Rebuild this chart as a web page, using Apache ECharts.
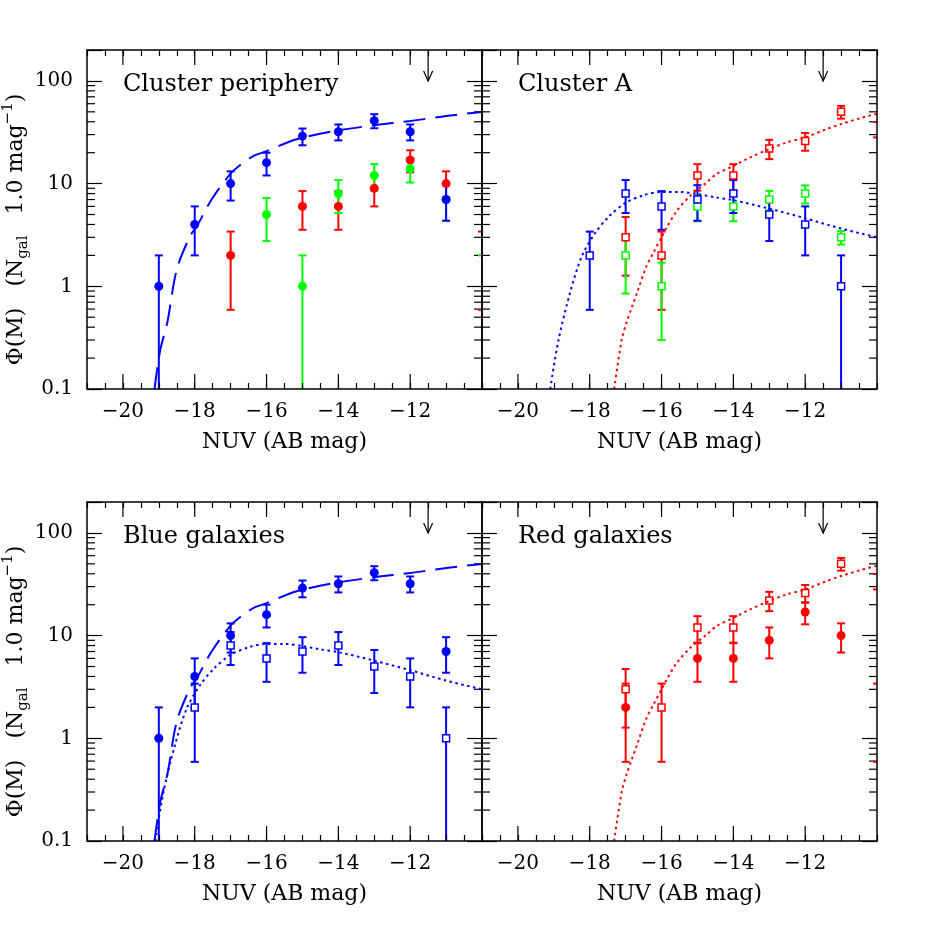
<!DOCTYPE html>
<html>
<head>
<meta charset="utf-8">
<title>NUV luminosity functions</title>
<script src="https://cdn.jsdelivr.net/npm/echarts@6/dist/echarts.min.js"></script>
<style>
  html, body { margin: 0; padding: 0; background: #fff; }
  #chart { width: 926px; height: 926px; }
</style>
</head>
<body>
<div id="chart"></div>
<script>
// Cluster periphery (filled circles)
const periphBlueX = [-19, -18, -17, -16, -15, -14, -13, -12, -11]
const periphBluePhi = [1, 4, 10, 16, 29, 32, 41, 32, 7]
const periphBlueErr = [1, 2, 3.16, 4, 5.39, 5.66, 6.4, 5.66, 2.65]
const periphRedX = [-17, -15, -14, -13, -12, -11, -10]
const periphRedPhi = [2, 6, 6, 9, 17, 10, 2]
const periphRedErr = [1.41, 2.45, 2.45, 3, 4.12, 3.16, 1.41]
const periphGreenX = [-16, -15, -14, -13, -12, -11, -10]
const periphGreenPhi = [5, 1, 8, 12, 14, 7, 1]
const periphGreenErr = [2.24, 1, 2.83, 3.46, 3.74, 2.65, 1]

// Cluster A (open squares)
const clusterBlueX = [-18, -17, -16, -15, -14, -13, -12, -11]
const clusterBluePhi = [2, 8, 6, 7, 8, 5, 4, 1]
const clusterBlueErr = [1.41, 2.83, 2.45, 2.65, 2.83, 2.24, 2, 1]
const clusterRedX = [-17, -16, -15, -14, -13, -12, -11, -10]
const clusterRedPhi = [3, 2, 12, 12, 22, 26, 50, 34]
const clusterRedErr = [1.73, 1.41, 3.46, 3.46, 4.69, 5.1, 7.07, 5.83]
const clusterGreenX = [-17, -16, -15, -14, -13, -12, -11]
const clusterGreenPhi = [2, 1, 6, 6, 7, 8, 3]
const clusterGreenErr = [1.15, 0.7, 1.7, 1.7, 1.5, 1.6, 0.45]

// fitted curves
const periphFitX = [-19.12, -18.96, -18.76, -18.5, -18.13, -17.94, -17.53, -17.02, -16.74, -16.37, -16.0, -15.44, -15.0, -14.0, -13.0, -12.0, -11.0, -10.0]
const periphFitPhi = [0.1, 0.24, 0.45, 1.46, 3.08, 3.85, 7.0, 12.3, 15.1, 18.5, 20.7, 25, 28, 33, 37, 40.7, 45.6, 49.9]
const clusterBlueFitX = [-19.1, -18.87, -18.55, -18.22, -17.85, -17.46, -17.0, -16.5, -16.0, -15.5, -15.0, -14.5, -14.0, -13.0, -12.0, -11.0, -10.0]
const clusterBlueFitPhi = [0.1, 0.3, 0.86, 1.96, 3.3, 4.8, 6.5, 7.7, 8.3, 8.3, 7.9, 7.35, 6.9, 5.7, 4.6, 3.65, 3.0]
const clusterRedFitX = [-17.32, -17.11, -16.97, -16.83, -16.69, -16.42, -16.23, -16.0, -15.86, -15.58, -15.21, -14.75, -14.47, -14.01, -13.55, -13.01, -12.53, -12.02, -11.42, -11.02, -10.47, -10.0]
const clusterRedFitPhi = [0.1, 0.3, 0.45, 0.62, 0.85, 1.57, 2.12, 3.0, 3.72, 5.4, 7.55, 10.2, 12.4, 14.8, 17.9, 21.6, 25.1, 28, 33.8, 37.8, 43.3, 48]

// axis ticks and the completeness arrow
const xMajorTicks = [-20, -18, -16, -14, -12]
const yDecadeLabels = [0.1, 1, 10, 100]
const arrowMag = -11.5

const X_MIN = -21, X_MAX = -10, Y_MIN = 0.1, Y_MAX = 200
const FONT = 'DejaVu Serif'
const BLUE = '#0000ff', RED = '#ff0000', GREEN = '#00ff00'
const LONG_DASH = [22, 10]
const DOTTED = [2.5, 3.5]

const yMinorTicks = []
yDecadeLabels.forEach(d => {
  for (let m = 2; m <= 9; m++) if (m * d < Y_MAX) yMinorTicks.push(+(m * d).toPrecision(3))
})

const periphBlue = { x: periphBlueX, phi: periphBluePhi, err: periphBlueErr, color: BLUE, shape: 'circle' }
const periphRed = { x: periphRedX, phi: periphRedPhi, err: periphRedErr, color: RED, shape: 'circle' }
const periphGreen = { x: periphGreenX, phi: periphGreenPhi, err: periphGreenErr, color: GREEN, shape: 'circle' }
const clusterBlue = { x: clusterBlueX, phi: clusterBluePhi, err: clusterBlueErr, color: BLUE, shape: 'rect' }
const clusterRed = { x: clusterRedX, phi: clusterRedPhi, err: clusterRedErr, color: RED, shape: 'rect' }
const clusterGreen = { x: clusterGreenX, phi: clusterGreenPhi, err: clusterGreenErr, color: GREEN, shape: 'rect' }

const periphFit = { x: periphFitX, phi: periphFitPhi, color: BLUE, dash: LONG_DASH }
const clusterBlueFit = { x: clusterBlueFitX, phi: clusterBlueFitPhi, color: BLUE, dash: DOTTED }
const clusterRedFit = { x: clusterRedFitX, phi: clusterRedFitPhi, color: RED, dash: DOTTED }

const panels = [
  { title: 'Cluster periphery', left: 87, top: 50, yLabels: true, sets: [periphRed, periphGreen, periphBlue], curves: [periphFit] },
  { title: 'Cluster A', left: 482, top: 50, yLabels: false, sets: [clusterRed, clusterGreen, clusterBlue], curves: [clusterBlueFit, clusterRedFit] },
  { title: 'Blue galaxies', left: 87, top: 502, yLabels: true, sets: [clusterBlue, periphBlue], curves: [periphFit, clusterBlueFit] },
  { title: 'Red galaxies', left: 482, top: 502, yLabels: false, sets: [periphRed, clusterRed], curves: [clusterRedFit] }
]

const PANEL_W = 395, PANEL_H = 339
const frameLine = { show: true, lineStyle: { color: '#000', width: 1.5 } }
const tickStyle = { color: '#000', width: 1.2 }

const yName = '{t|Φ(M)   (N}{sub|gal}{t|   1.0 mag}{sup|−1}{t|)}'

const option = { animation: false, backgroundColor: '#fff', title: [], grid: [], xAxis: [], yAxis: [], series: [] }

const errorBars = (set, axisIdx) => ({
  type: 'custom', xAxisIndex: axisIdx, yAxisIndex: axisIdx, clip: true, silent: true,
  data: set.x.map((x, i) => {
    const lo = set.phi[i] - set.err[i]
    return [x, lo > 0 ? lo : 0.001, set.phi[i] + set.err[i], lo > 0 ? 1 : 0]
  }),
  renderItem: (params, api) => {
    const x = api.value(0)
    const top = api.coord([x, api.value(2)])
    const bot = api.coord([x, api.value(1)])
    const style = { stroke: set.color, lineWidth: 2 }
    const kids = [{ type: 'line', shape: { x1: top[0] - 4, y1: top[1], x2: top[0] + 4, y2: top[1] }, style }]
    // a bar lying on the frame edge is hidden by the frame, only its caps poke in
    if (x > X_MIN && x < X_MAX) kids.push({ type: 'line', shape: { x1: top[0], y1: top[1], x2: bot[0], y2: bot[1] }, style })
    if (api.value(3)) kids.push({ type: 'line', shape: { x1: bot[0] - 4, y1: bot[1], x2: bot[0] + 4, y2: bot[1] }, style })
    return { type: 'group', children: kids }
  }
})

const points = (set, axisIdx) => ({
  type: 'scatter', xAxisIndex: axisIdx, yAxisIndex: axisIdx, silent: true,
  symbol: set.shape,
  symbolSize: set.shape === 'circle' ? 9 : 7,
  itemStyle: set.shape === 'circle'
    ? { color: set.color, opacity: 1 }
    : { color: '#fff', borderColor: set.color, borderWidth: 1.5, opacity: 1 },
  // markers centred on the frame edge are not drawn
  data: set.x.map((x, i) => [x, set.phi[i]]).filter(p => p[0] > X_MIN && p[0] < X_MAX)
})

panels.forEach((p, i) => {
  const bx = 2 * i
  option.grid.push({ left: p.left, top: p.top, width: PANEL_W, height: PANEL_H, outerBoundsMode: 'none', containLabel: false })

  option.title.push({
    text: p.title, left: p.left + 36, top: p.top + 23, padding: 0,
    textStyle: { fontFamily: FONT, fontSize: 24, fontWeight: 'normal', color: '#000' }
  })

  option.xAxis.push({
    type: 'value', gridIndex: i, position: 'bottom', min: X_MIN, max: X_MAX, interval: 0.5, z: 10,
    axisLine: frameLine, splitLine: { show: false },
    axisTick: { inside: true, length: 6, lineStyle: tickStyle },
    axisLabel: {
      margin: 13, fontFamily: FONT, fontSize: 20, color: '#000',
      formatter: v => (v % 2 === 0 && v > X_MIN && v < X_MAX) ? '−' + Math.abs(v) : ''
    },
    name: 'NUV (AB mag)', nameLocation: 'middle', nameGap: 42,
    nameTextStyle: { fontFamily: FONT, fontSize: 22, color: '#000' }
  })
  option.xAxis.push({
    type: 'value', gridIndex: i, position: 'top', min: X_MIN, max: X_MAX, interval: 0.5, z: 10,
    axisLine: frameLine, splitLine: { show: false },
    axisTick: { inside: true, length: 6, lineStyle: tickStyle },
    axisLabel: { show: false }
  })

  option.yAxis.push({
    type: 'log', logBase: 10, gridIndex: i, position: 'left', min: Y_MIN, max: Y_MAX, z: 10,
    axisLine: frameLine, splitLine: { show: false }, minorTick: { show: false },
    axisTick: { inside: true, length: 15, lineStyle: tickStyle },
    axisLabel: {
      show: p.yLabels, margin: 14, fontFamily: FONT, fontSize: 20, color: '#000',
      formatter: v => yDecadeLabels.includes(+(+v).toPrecision(3)) ? String(+(+v).toPrecision(3)) : ''
    },
    name: p.yLabels ? yName : '', nameLocation: 'middle', nameGap: 56, nameRotate: 90,
    nameTextStyle: {
      padding: [0, 20, 0, 0],
      rich: {
        t: { fontFamily: FONT, fontSize: 22, color: '#000', lineHeight: 30, verticalAlign: 'middle' },
        sub: { fontFamily: FONT, fontSize: 15, color: '#000', lineHeight: 15, verticalAlign: 'bottom' },
        sup: { fontFamily: FONT, fontSize: 15, color: '#000', lineHeight: 15, verticalAlign: 'top' }
      }
    }
  })
  option.yAxis.push({
    type: 'log', logBase: 10, gridIndex: i, position: 'right', min: Y_MIN, max: Y_MAX, z: 10,
    axisLine: frameLine, splitLine: { show: false },
    axisTick: { inside: true, length: 15, lineStyle: tickStyle },
    axisLabel: { show: false }
  })

  // long ticks on even magnitudes, top and bottom
  option.series.push({
    type: 'custom', xAxisIndex: bx, yAxisIndex: bx, silent: true,
    data: xMajorTicks.map(v => [v, Y_MIN]),
    renderItem: (params, api) => {
      const cs = params.coordSys
      const px = api.coord([api.value(0), Y_MIN])[0]
      return { type: 'group', children: [
        { type: 'line', shape: { x1: px, y1: cs.y + cs.height, x2: px, y2: cs.y + cs.height - 15 }, style: { stroke: '#000', lineWidth: 1.2 } },
        { type: 'line', shape: { x1: px, y1: cs.y, x2: px, y2: cs.y + 15 }, style: { stroke: '#000', lineWidth: 1.2 } }
      ] }
    }
  })
  // log minor ticks, left and right
  option.series.push({
    type: 'custom', xAxisIndex: bx, yAxisIndex: bx, silent: true,
    data: yMinorTicks.map(v => [X_MIN, v]),
    renderItem: (params, api) => {
      const cs = params.coordSys
      const py = api.coord([X_MIN, api.value(1)])[1]
      return { type: 'group', children: [
        { type: 'line', shape: { x1: cs.x, y1: py, x2: cs.x + 8, y2: py }, style: { stroke: '#000', lineWidth: 1.2 } },
        { type: 'line', shape: { x1: cs.x + cs.width - 8, y1: py, x2: cs.x + cs.width, y2: py }, style: { stroke: '#000', lineWidth: 1.2 } }
      ] }
    }
  })
  // completeness arrow
  option.series.push({
    type: 'custom', xAxisIndex: bx, yAxisIndex: bx, silent: true,
    data: [[arrowMag, 100]],
    renderItem: (params, api) => {
      const cs = params.coordSys
      const tip = api.coord([api.value(0), api.value(1)])
      const style = { stroke: '#000', lineWidth: 1.2, fill: null }
      return { type: 'group', children: [
        { type: 'line', shape: { x1: tip[0], y1: cs.y, x2: tip[0], y2: tip[1] }, style },
        { type: 'polyline', shape: { points: [[tip[0] - 4.5, tip[1] - 10], tip, [tip[0] + 4.5, tip[1] - 10]] }, style }
      ] }
    }
  })

  p.sets.forEach(set => {
    option.series.push(errorBars(set, bx))
    option.series.push(points(set, bx))
  })

  p.curves.forEach(c => {
    option.series.push({
      type: 'line', xAxisIndex: bx, yAxisIndex: bx, silent: true, clip: true,
      showSymbol: false, symbol: 'none', smooth: 0.3,
      lineStyle: { color: c.color, width: 2, type: c.dash, cap: 'butt' },
      data: c.x.map((x, k) => [x, c.phi[k]])
    })
  })
})

const chart = echarts.init(document.getElementById('chart'), null, { renderer: 'canvas' })
chart.setOption(option)
window.addEventListener('resize', () => chart.resize())
</script>
</body>
</html>
